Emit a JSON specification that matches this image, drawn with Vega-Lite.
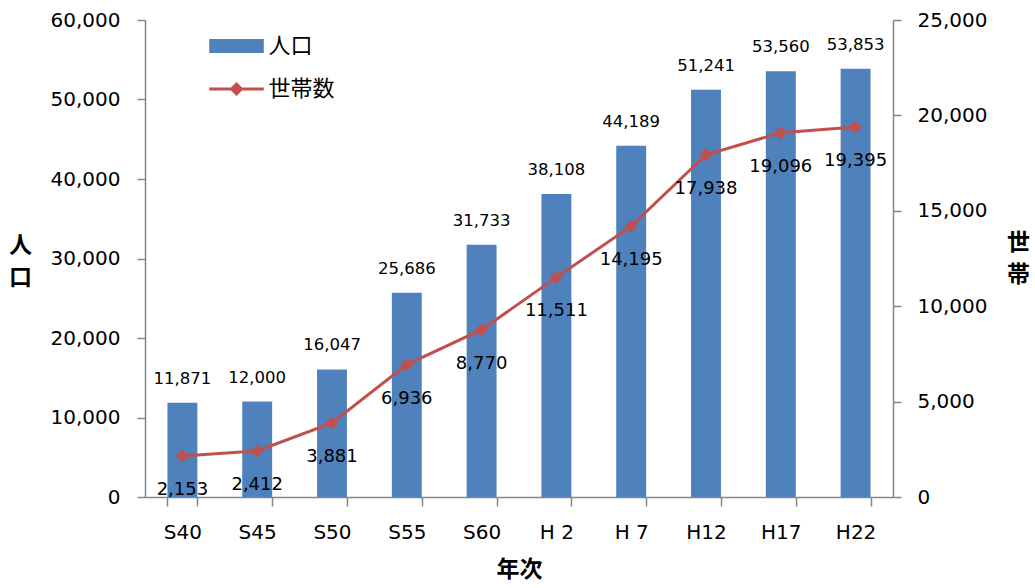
{
  "$schema": "https://vega.github.io/schema/vega-lite/v6.json",
  "width": 748,
  "height": 477,
  "autosize": {"type": "none"},
  "padding": {"left": 145, "top": 20, "right": 142, "bottom": 91},
  "background": "white",
  "config": {
    "font": "DejaVu Sans",
    "view": {"stroke": null},
    "axis": {
      "domainColor": "#868686",
      "tickColor": "#868686",
      "labelColor": "black",
      "labelFont": "DejaVu Sans",
      "labelFontSize": 20,
      "labelFontWeight": "normal",
      "grid": false,
      "tickSize": 8,
      "domainWidth": 1.5,
      "tickWidth": 1.5,
      "titleColor": "black",
      "titleFont": "Noto Sans CJK JP",
      "titleFontSize": 23,
      "titleFontWeight": "bold"
    },
    "legend": {"padding": 0, "labelFontSize": 22, "labelColor": "black", "labelFont": "Noto Sans CJK JP"}
  },
  "data": {
    "values": [
      {"year": "S40", "pop": 11871, "hh": 2153},
      {"year": "S45", "pop": 12000, "hh": 2412},
      {"year": "S50", "pop": 16047, "hh": 3881},
      {"year": "S55", "pop": 25686, "hh": 6936},
      {"year": "S60", "pop": 31733, "hh": 8770},
      {"year": "H 2", "pop": 38108, "hh": 11511},
      {"year": "H 7", "pop": 44189, "hh": 14195},
      {"year": "H12", "pop": 51241, "hh": 17938},
      {"year": "H17", "pop": 53560, "hh": 19096},
      {"year": "H22", "pop": 53853, "hh": 19395}
    ]
  },
  "encoding": {
    "x": {
      "field": "year",
      "type": "nominal",
      "sort": null,
      "scale": {"paddingInner": 0.6, "paddingOuter": 0.3},
      "axis": {
        "title": "年次",
        "labelAngle": 0,
        "tickBand": "extent",
        "labelPadding": 16,
        "titlePadding": 16,
        "tickSize": 9
      }
    }
  },
  "layer": [
    {
      "encoding": {
        "y": {
          "field": "pop",
          "type": "quantitative",
          "scale": {"domain": [0, 60000], "nice": false},
          "axis": {
            "orient": "left",
            "values": [0, 10000, 20000, 30000, 40000, 50000, 60000],
            "format": ",d",
            "labelPadding": 17,
            "title": ["人", "口"],
            "titleAngle": 0,
            "titleX": -125,
            "titleY": 225,
            "titleAlign": "center",
            "titleBaseline": "middle",
            "titleLineHeight": 32
          }
        }
      },
      "layer": [
        {
          "mark": {"type": "bar"},
          "encoding": {
            "fill": {
              "datum": "人口",
              "scale": {"range": ["#4F81BD"]},
              "legend": {
                "orient": "none",
                "legendX": 80.5,
                "legendY": 15,
                "title": null,
                "symbolType": "M-3.9,-1H3.9V1H-3.9Z",
                "symbolSize": 196,
                "symbolStrokeWidth": 0,
                "labelOffset": 21
              }
            }
          }
        },
        {
          "mark": {"type": "text", "baseline": "middle", "dy": -24, "fontSize": 16.5, "color": "black", "font": "DejaVu Sans"},
          "encoding": {"text": {"field": "pop", "type": "quantitative", "format": ",d"}}
        }
      ]
    },
    {
      "encoding": {
        "y": {
          "field": "hh",
          "type": "quantitative",
          "scale": {"domain": [0, 25000], "nice": false},
          "axis": {
            "orient": "right",
            "values": [0, 5000, 10000, 15000, 20000, 25000],
            "format": ",d",
            "labelPadding": 16,
            "title": ["世", "帯"],
            "titleAngle": 0,
            "titleX": 125,
            "titleY": 222,
            "titleAlign": "center",
            "titleBaseline": "middle",
            "titleLineHeight": 32
          }
        }
      },
      "layer": [
        {
          "mark": {"type": "line", "strokeWidth": 3},
          "encoding": {
            "stroke": {
              "datum": "世帯数",
              "scale": {"range": ["#C0504D"]},
              "legend": {
                "orient": "none",
                "legendX": 80.5,
                "legendY": 58,
                "title": null,
                "symbolType": "M-3.9,-0.2H3.9V0.2H-3.9Z M0,-1L1,0L0,1L-1,0Z",
                "symbolSize": 196,
                "symbolFillColor": "#C0504D",
                "symbolStrokeWidth": 0,
                "labelOffset": 21
              }
            }
          }
        },
        {
          "mark": {"type": "point", "shape": "diamond", "filled": true, "size": 170, "color": "#C0504D", "opacity": 1}
        },
        {
          "mark": {"type": "text", "baseline": "middle", "dy": 34, "fontSize": 18, "color": "black", "font": "DejaVu Sans"},
          "encoding": {"text": {"field": "hh", "type": "quantitative", "format": ",d"}}
        }
      ]
    }
  ],
  "resolve": {"scale": {"y": "independent"}}
}
